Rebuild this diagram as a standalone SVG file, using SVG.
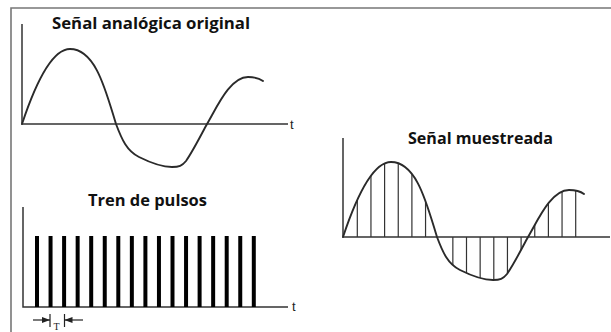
<svg xmlns="http://www.w3.org/2000/svg" xmlns:xlink="http://www.w3.org/1999/xlink" width="611" height="332" viewBox="0 0 611 332">
<style>
.frame{stroke:#777;stroke-width:1.6;fill:none}
.axis{stroke:#333;stroke-width:1.5;fill:none}
.wave{stroke:#2a2a2a;stroke-width:1.9;fill:none;stroke-linejoin:round;stroke-linecap:round}
.pulse{stroke:#000;stroke-width:4}
.sample{stroke:#333;stroke-width:1.2}
.title{font-family:"Open Sans","Liberation Sans",sans-serif;font-weight:700;font-size:15.5px;fill:#111}
.tlab{font-family:"Liberation Sans",Arial,sans-serif;font-size:13px;fill:#222}
.tsym{font-family:"Liberation Serif","Times New Roman",serif;font-size:10px;fill:#222}
.dim{stroke:#222;stroke-width:1.2;fill:none}
</style>
<defs>
<path id="wave" d="M0,0 C10,-30 28,-75 48,-75 C74,-75 84,-32 94,0 C100,16 105,27 117,33 C129,39 140,43 150,43 C157,43 160,42 164,37 C171,27 179,11 185,0 C195,-17 208,-47 226,-47 C232,-47 237,-46 241,-43"/>
<clipPath id="areaClip" clipPathUnits="userSpaceOnUse">
<path d="M0,0 C10,-30 28,-75 48,-75 C74,-75 84,-32 94,0 C100,16 105,27 117,33 C129,39 140,43 150,43 C157,43 160,42 164,37 C171,27 179,11 185,0 C195,-17 208,-47 226,-47 C232,-47 237,-46 241,-43 L241,0 Z"/>
</clipPath>
<marker id="arrowR" viewBox="0 0 8 6" refX="8" refY="3" markerWidth="8" markerHeight="6" markerUnits="userSpaceOnUse" orient="auto">
<path d="M0,0 L8,3 L0,6 Z" fill="#222"/>
</marker>
</defs>
<rect width="611" height="332" fill="#fff"/>
<g id="frame">
<path class="frame" d="M11,332 V8 H611"/>
</g>
<g id="panel-original">
<text class="title" x="52" y="29" textLength="198" lengthAdjust="spacingAndGlyphs">Señal analógica original</text>
<path class="axis" d="M22,24 V124 H288"/>
<text class="tlab" x="290" y="129">t</text>
<use href="#wave" xlink:href="#wave" class="wave" transform="translate(22,124)"/>
</g>
<g id="panel-pulses">
<text class="title" x="88" y="206" textLength="119" lengthAdjust="spacingAndGlyphs">Tren de pulsos</text>
<path class="axis" d="M23,207 V307 H288"/>
<text class="tlab" x="292" y="311">t</text>
<g class="pulse">
<line x1="37" y1="236" x2="37" y2="307"/>
<line x1="50.55" y1="236" x2="50.55" y2="307"/>
<line x1="64.1" y1="236" x2="64.1" y2="307"/>
<line x1="77.65" y1="236" x2="77.65" y2="307"/>
<line x1="91.2" y1="236" x2="91.2" y2="307"/>
<line x1="104.75" y1="236" x2="104.75" y2="307"/>
<line x1="118.3" y1="236" x2="118.3" y2="307"/>
<line x1="131.85" y1="236" x2="131.85" y2="307"/>
<line x1="145.4" y1="236" x2="145.4" y2="307"/>
<line x1="158.95" y1="236" x2="158.95" y2="307"/>
<line x1="172.5" y1="236" x2="172.5" y2="307"/>
<line x1="186.05" y1="236" x2="186.05" y2="307"/>
<line x1="199.6" y1="236" x2="199.6" y2="307"/>
<line x1="213.15" y1="236" x2="213.15" y2="307"/>
<line x1="226.7" y1="236" x2="226.7" y2="307"/>
<line x1="240.25" y1="236" x2="240.25" y2="307"/>
<line x1="253.8" y1="236" x2="253.8" y2="307"/>
</g>
<g id="period-T">
<line class="dim" x1="50" y1="314" x2="50" y2="327"/>
<line class="dim" x1="64.5" y1="314" x2="64.5" y2="327"/>
<line class="dim" x1="33" y1="320" x2="50" y2="320" marker-end="url(#arrowR)"/>
<line class="dim" x1="83" y1="320" x2="64.5" y2="320" marker-end="url(#arrowR)"/>
<text class="tsym" x="56.5" y="330" text-anchor="middle">T</text>
</g>
</g>
<g id="panel-sampled">
<text class="title" x="408" y="144" textLength="145" lengthAdjust="spacingAndGlyphs">Señal muestreada</text>
<path class="axis" d="M343,138 V237 H610"/>
<g transform="translate(343,237)">
<g class="sample" clip-path="url(#areaClip)">
<line x1="14.3" y1="-90" x2="14.3" y2="60"/>
<line x1="27.95" y1="-90" x2="27.95" y2="60"/>
<line x1="41.6" y1="-90" x2="41.6" y2="60"/>
<line x1="55.25" y1="-90" x2="55.25" y2="60"/>
<line x1="68.9" y1="-90" x2="68.9" y2="60"/>
<line x1="82.55" y1="-90" x2="82.55" y2="60"/>
<line x1="109.85" y1="-90" x2="109.85" y2="60"/>
<line x1="123.5" y1="-90" x2="123.5" y2="60"/>
<line x1="137.15" y1="-90" x2="137.15" y2="60"/>
<line x1="150.8" y1="-90" x2="150.8" y2="60"/>
<line x1="164.45" y1="-90" x2="164.45" y2="60"/>
<line x1="178.1" y1="-90" x2="178.1" y2="60"/>
<line x1="191.75" y1="-90" x2="191.75" y2="60"/>
<line x1="205.4" y1="-90" x2="205.4" y2="60"/>
<line x1="219.05" y1="-90" x2="219.05" y2="60"/>
<line x1="232.7" y1="-90" x2="232.7" y2="60"/>
</g>
<use href="#wave" xlink:href="#wave" class="wave"/>
</g>
</g>
</svg>
